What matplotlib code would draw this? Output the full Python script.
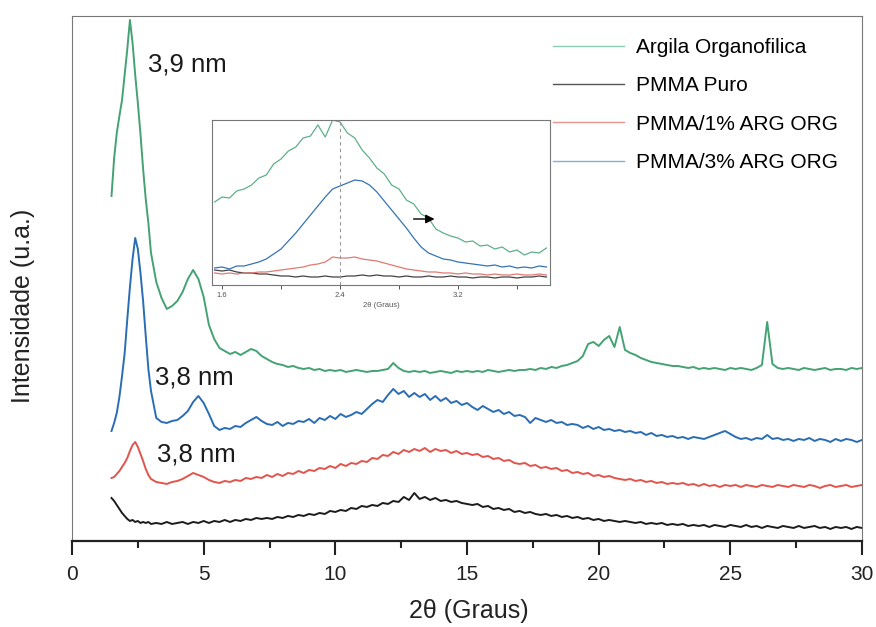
import numpy as np
import matplotlib.pyplot as plt
from matplotlib.lines import Line2D

plt.rcParams['font.family'] = ['Liberation Sans', 'DejaVu Sans']

# 2theta sampling (deg): 0.1 over the low-angle peak, 0.2 afterwards
two_theta = np.concatenate([np.arange(1.5, 3.05, 0.1),
                            np.arange(3.2, 30.05, 0.2)]).round(2)

# intensities (arbitrary units, curves already offset as in the figure)
argila = [345, 383, 408, 425, 441, 466, 492, 521, 498, 466, 438, 407, 372, 342, 318, 288,
          259, 243, 232, 235, 240, 249, 262, 271, 262, 244, 216, 202, 193, 190, 187, 189, 186, 189, 192, 190,
          185, 182, 179, 177, 176, 174, 175, 173, 172, 173,
          171, 172, 170, 171, 170, 171, 169, 170, 171, 170,
          169, 170, 170, 171, 172, 178, 173, 170, 169, 170,
          169, 170, 168, 169, 170, 169, 168, 170, 169, 170,
          169, 170, 169, 171, 170, 169, 170, 171, 170, 171,
          171, 172, 171, 173, 172, 174, 173, 175, 176, 178,
          180, 185, 197, 199, 195, 201, 205, 194, 214, 191,
          188, 186, 183, 181, 179, 178, 177, 176, 175, 175,
          174, 173, 174, 172, 173, 172, 173, 172, 171, 173,
          172, 173, 172, 171, 173, 176, 219, 177, 173, 172,
          173, 172, 171, 173, 172, 171, 172, 173, 171, 172,
          172, 171, 173, 172, 173]

pmma_3 = [110, 118, 128, 144, 165, 188, 222, 254, 282, 303, 292, 268, 240, 205, 172, 150,
          123, 119, 118, 120, 121, 125, 130, 139, 145, 138, 127, 115, 111, 113, 112, 115, 114, 118, 121, 124,
          120, 117, 116, 119, 115, 118, 117, 120, 119, 122,
          118, 123, 121, 125, 122, 127, 124, 126, 129, 127,
          132, 137, 141, 139, 146, 152, 147, 150, 144, 148,
          144, 147, 141, 145, 140, 143, 138, 140, 136, 138,
          134, 131, 135, 132, 129, 131, 127, 129, 125, 126,
          124, 118, 123, 121, 119, 121, 118, 119, 116, 117,
          116, 113, 115, 112, 114, 111, 112, 110, 111, 109,
          110, 108, 109, 106, 108, 105, 106, 104, 105, 103,
          104, 102, 104, 103, 102, 104, 106, 108, 110, 107,
          104, 102, 103, 101, 103, 102, 106, 102, 103, 101,
          102, 100, 102, 101, 103, 100, 102, 101, 99, 102,
          100, 102, 101, 99, 101]

pmma_1 = [63, 64, 67, 70, 74, 78, 83, 90, 96, 99, 94, 87, 80, 72, 66, 62,
          59, 58, 57, 59, 60, 62, 65, 68, 66, 64, 61, 59, 58, 60, 59, 61, 60, 63, 62, 64,
          63, 66, 64, 67, 65, 68, 67, 70, 68, 71,
          70, 73, 72, 75, 73, 77, 75, 78, 77, 80,
          79, 83, 82, 86, 85, 89, 87, 91, 89, 92,
          90, 93, 89, 92, 90, 91, 88, 90, 87, 88,
          86, 87, 84, 85, 82, 83, 80, 81, 78, 77,
          78, 75, 76, 73, 74, 72, 73, 70, 71, 68,
          69, 67, 68, 65, 66, 64, 65, 63, 62, 61,
          62, 60, 61, 59, 60, 58, 59, 57, 58, 57,
          58, 56, 57, 55, 57, 55, 56, 54, 56, 55,
          56, 54, 56, 55, 54, 56, 55, 54, 56, 55,
          54, 56, 55, 54, 56, 55, 53, 55, 56, 54,
          55, 56, 54, 55, 56]

pmma_puro = [43, 40, 36, 32, 28, 25, 22, 20, 21, 19, 20, 18, 19, 18, 19, 17,
             18, 17, 19, 17, 18, 19, 17, 19, 18, 20, 18, 20, 19, 21, 19, 21, 20, 22, 21, 23,
             22, 23, 22, 24, 23, 25, 24, 26, 25, 27,
             26, 28, 27, 30, 29, 31, 30, 33, 32, 35,
             34, 36, 35, 38, 37, 40, 39, 44, 41, 48,
             42, 44, 41, 43, 40, 41, 39, 40, 38, 37,
             36, 37, 34, 35, 32, 33, 31, 32, 29, 30,
             28, 29, 27, 26, 27, 25, 26, 24, 25, 23,
             24, 22, 23, 21, 22, 20, 21, 20, 19, 20,
             19, 18, 19, 17, 18, 17, 18, 16, 17, 16,
             17, 15, 16, 15, 16, 14, 16, 15, 14, 16,
             15, 14, 16, 14, 15, 13, 15, 14, 13, 15,
             14, 13, 15, 13, 14, 15, 13, 14, 12, 14,
             13, 14, 12, 14, 13]

# inset: zoom on the low-angle peak
inset_theta = np.arange(1.55, 3.801, 0.05).round(2)
inset_argila = [83, 88, 87, 94, 96, 100, 107, 110, 121, 126, 134, 138, 147, 149, 160, 148,
                165, 163, 152, 147, 135, 127, 117, 111, 100, 96, 85, 81, 71, 67, 56, 52,
                49, 47, 43, 44, 39, 40, 36, 38, 33, 35, 30, 33, 32, 37]
inset_3 = [17, 18, 16, 19, 19, 21, 23, 26, 31, 36, 44, 52, 61, 70, 79, 88,
           96, 99, 102, 105, 104, 100, 93, 84, 75, 66, 57, 47, 38, 32, 29, 26,
           25, 23, 22, 21, 20, 19, 20, 18, 19, 17, 18, 17, 19, 18]
inset_1 = [12, 11, 12, 11, 12, 12, 13, 13, 14, 15, 16, 17, 18, 20, 21, 23,
           28, 27, 27, 28, 26, 25, 24, 22, 20, 18, 16, 15, 14, 13, 13, 12,
           12, 11, 12, 11, 11, 10, 11, 10, 10, 11, 10, 10, 11, 10]
inset_puro = [15, 14, 15, 13, 12, 12, 11, 11, 10, 9, 9, 8, 9, 8, 8, 9,
              8, 8, 9, 9, 10, 9, 10, 9, 9, 8, 9, 8, 8, 9, 8, 8,
              9, 8, 8, 7, 8, 8, 7, 8, 8, 7, 8, 8, 9, 8]

labels = ['Argila Organofilica', 'PMMA Puro', 'PMMA/1% ARG ORG', 'PMMA/3% ARG ORG']
colors = ['#45a272', '#1c1c1c', '#e2544c', '#2a6db4']
legend_colors = ['#8ccfb3', '#555555', '#e3958e', '#7fb0d8']

fig = plt.figure(figsize=(8.76, 6.27), dpi=100)
ax = fig.add_axes([0.0822, 0.1372, 0.9018, 0.8373])

for y, c in zip([pmma_puro, pmma_1, pmma_3, argila], [colors[1], colors[2], colors[3], colors[0]]):
    ax.plot(two_theta, y, color=c, lw=1.4)

ax.set_xlim(0, 30)
ax.set_ylim(0, 525)
ax.set_yticks([])
ax.set_xticks(range(0, 31, 5))
ax.set_xticks(np.arange(2.5, 30, 5), minor=True)
ax.tick_params(axis='x', which='major', direction='out', length=10, width=1.5,
               labelsize=15, pad=7, colors='#222222')
ax.tick_params(axis='x', which='minor', direction='out', length=5, width=1.5, colors='#222222')
for s in ['left', 'top', 'right']:
    ax.spines[s].set_linewidth(0.8)
    ax.spines[s].set_color('#777777')
ax.spines['bottom'].set_linewidth(1.6)
ax.spines['bottom'].set_color('#222222')

ax.text(2.89, 469, '3,9 nm', fontsize=18.5, color='#1a1a1a', va='baseline')
ax.text(3.15, 156, '3,8 nm', fontsize=18.5, color='#1a1a1a', va='baseline')
ax.text(3.23, 79, '3,8 nm', fontsize=18.5, color='#1a1a1a', va='baseline')

fig.text(469 / 876, 1 - 611 / 627, '2θ (Graus)', fontsize=18, ha='center', va='center', color='#222222')
fig.text(23 / 876, 1 - 306 / 627, 'Intensidade (u.a.)', fontsize=18, rotation=90,
         ha='center', va='center', color='#222222')

handles = [Line2D([], [], color=c, lw=1.0) for c in legend_colors]
fig.legend(handles, labels, loc='upper left', bbox_to_anchor=(553 / 876, 1 - 38 / 627),
           frameon=False, fontsize=15, handlelength=3.4, handletextpad=0.6,
           labelspacing=0.93, borderpad=0, borderaxespad=0)

# inset
ax_in = fig.add_axes([212 / 876, 1 - 285 / 627, 338 / 876, 165 / 627])
ax_in.plot(inset_theta, inset_puro, color='#444444', lw=0.9)
ax_in.plot(inset_theta, inset_1, color='#e07a72', lw=0.9)
ax_in.plot(inset_theta, inset_3, color='#3573b5', lw=0.9)
ax_in.plot(inset_theta, inset_argila, color='#5db08a', lw=0.9)
ax_in.axvline(2.4, color='#999999', lw=0.8, ls=(0, (3, 3)))
ax_in.annotate('', xy=(3.06, 66), xytext=(2.88, 66),
               arrowprops=dict(arrowstyle='-|>', color='black', lw=1.0, mutation_scale=13))
ax_in.set_xlim(1.532, 3.824)
ax_in.set_ylim(0, 165)
ax_in.set_yticks([])
ax_in.set_xticks([1.6, 2.4, 3.2])
ax_in.set_xticks([2.0, 2.8, 3.6], minor=True)
ax_in.tick_params(axis='x', which='both', direction='out', length=3, width=0.7,
                  labelsize=5.5, pad=2, colors='#555555')
ax_in.set_xlabel('2θ (Graus)', fontsize=5.5, labelpad=2, color='#555555')
for s in ax_in.spines.values():
    s.set_linewidth(0.8)
    s.set_color('#777777')

fig.savefig('out.png', dpi=100)
